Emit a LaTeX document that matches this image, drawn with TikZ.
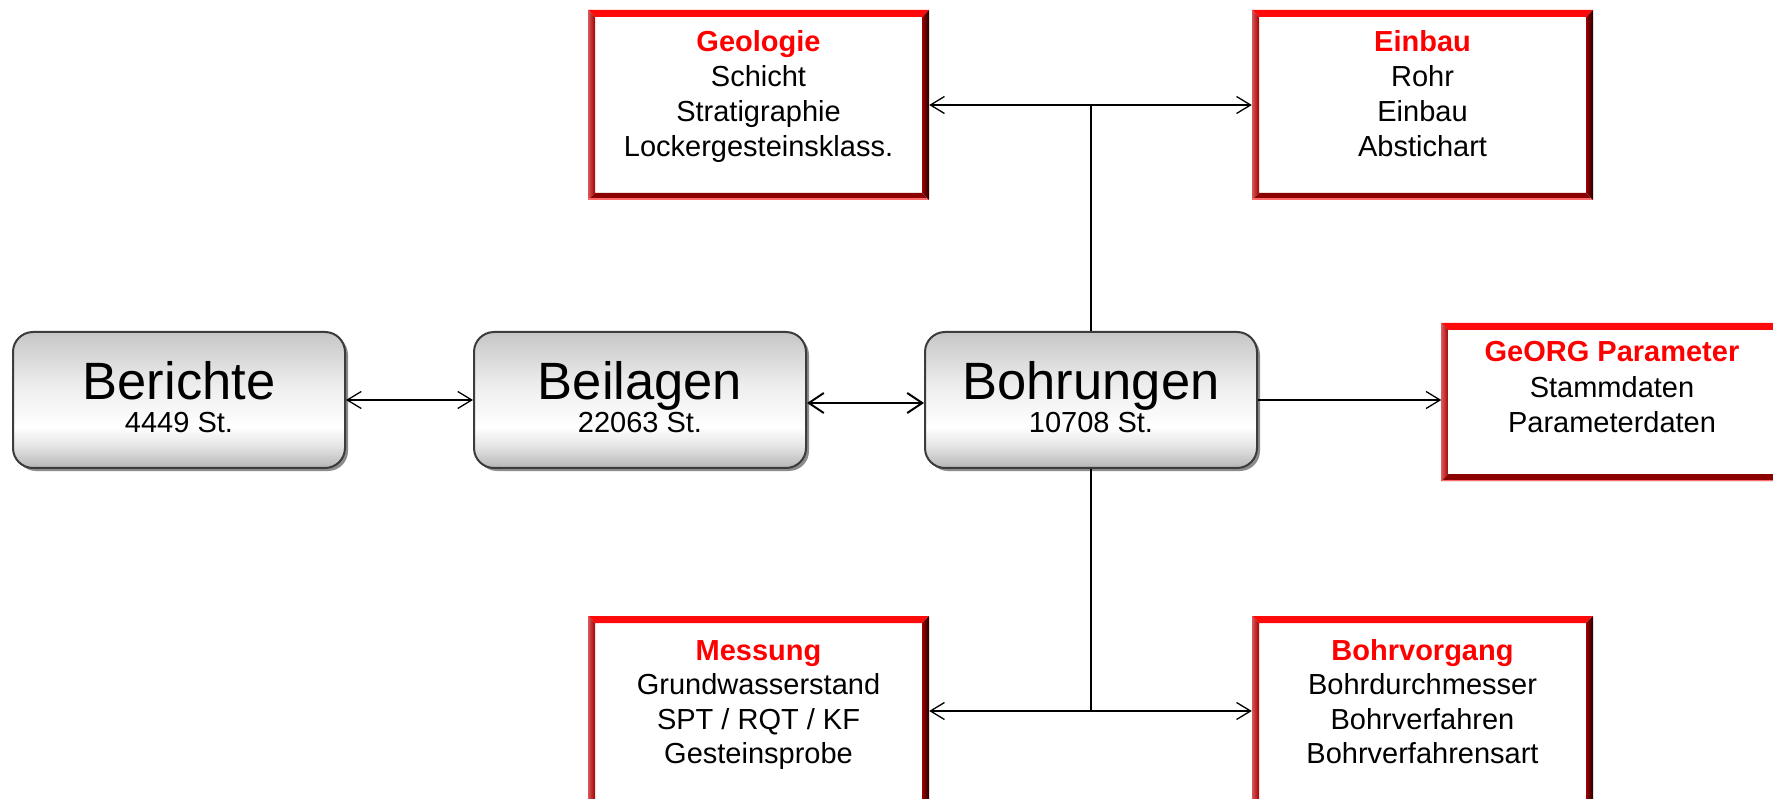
\documentclass[tikz,border=0pt]{standalone}
\usepackage{fontspec}
\setmainfont{Liberation Sans}
\usetikzlibrary{arrows.meta,calc,shadows}
\definecolor{ttlred}{HTML}{FF0000}
\definecolor{bvTop}{HTML}{FF0A0A}
\definecolor{bvLeftA}{HTML}{D85858}
\definecolor{bvLeftB}{HTML}{A00000}
\definecolor{bvBot}{HTML}{8B0000}
\definecolor{bvPink}{HTML}{FF6A6A}
\definecolor{bvRightA}{HTML}{A00000}
\definecolor{bvRightB}{HTML}{1E0000}
\definecolor{gbA}{HTML}{B6B6B6}
\definecolor{gbB}{HTML}{E4E4E4}
\definecolor{gbC}{HTML}{EEEEEE}
\definecolor{gbD}{HTML}{C6C6C6}
\definecolor{grayborder}{HTML}{3C3C3C}
\definecolor{shadowgray}{HTML}{8C8C8C}
\pgfdeclareverticalshading{grayboxshade}{100bp}{color(0bp)=(gbA); color(25bp)=(gbA); color(33bp)=(gbB); color(40bp)=(white); color(55bp)=(gbC); color(75bp)=(gbD); color(100bp)=(gbD)}
\newcommand\stacklines[2]{\vtop{\baselineskip=#1\relax\lineskiplimit=-1000pt\lineskip=0pt\halign{\hfil##\hfil\cr#2\crcr}}}
\newcommand\ttl[1]{\textcolor{ttlred}{\bfseries #1}}
\newcommand\redbevel{%
  \coordinate (pNW) at (path picture bounding box.north west);
  \coordinate (pSE) at (path picture bounding box.south east);
  \coordinate (pNE) at (path picture bounding box.north east);
  \coordinate (pSW) at (path picture bounding box.south west);
  \fill[bvTop] (pNW) -- (pNE) -- ($(pNE)+(-7,7)$) -- ($(pNW)+(7,7)$) -- cycle;
  \shade[left color=bvLeftA, right color=bvLeftB] (pNW) -- ($(pNW)+(7,7)$) -- ($(pSW)+(7,-7)$) -- (pSW) -- cycle;
  \fill[bvBot] (pSW) -- ($(pSW)+(7,-7)$) -- ($(pSE)+(-7,-7)$) -- (pSE) -- cycle;
  \fill[bvPink] (pSW) rectangle ($(pSE)+(0,-1.5)$);
  \shade[left color=bvRightA, right color=bvRightB] (pNE) -- (pSE) -- ($(pSE)+(-7,-7)$) -- ($(pNE)+(-7,7)$) -- cycle;
}
\tikzset{
  graybox/.style={rectangle, rounded corners=20pt, draw=grayborder, line width=2pt,
    shade, shading=grayboxshade, minimum width=332pt, minimum height=136pt, inner sep=0pt,
    copy shadow={shadow xshift=3pt, shadow yshift=-3pt, draw=none, fill=shadowgray}},
  redbox/.style={rectangle, draw=none, fill=white, minimum width=341pt, minimum height=190pt,
    inner sep=0pt, path picture={\redbevel}},
  txt/.style={anchor=base, inner sep=0pt, font=\fontsize{29}{35}\selectfont},
  conn/.style={line width=1.3pt, draw=black, >={Straight Barb[length=14pt,width=17pt,line width=1.3pt]}},
  connthick/.style={line width=2pt, draw=black, >={Straight Barb[length=15pt,width=20pt,line width=2pt]}}
}
\begin{document}
\begin{tikzpicture}[x=1pt,y=-1pt]
\useasboundingbox (0,0) rectangle (1773,799);
\fill[white] (0,0) rectangle (1773,799);
\clip (0,0) rectangle (1773,799);

% gray boxes
\node[graybox] (ber) at (179,400) {};
\node[graybox] (bei) at (640,400) {};
\node[graybox] (boh) at (1091,400) {};
\node[txt] (ber-t) at (179,400) {\stacklines{33pt}{{\fontsize{52.5}{60}\selectfont Berichte}\cr 4449 St.}};
\node[txt] (bei-t) at (640,400) {\stacklines{33pt}{{\fontsize{52.5}{60}\selectfont Beilagen}\cr 22063 St.}};
\node[txt] (boh-t) at (1091,400) {\stacklines{33pt}{{\fontsize{52.5}{60}\selectfont Bohrungen}\cr 10708 St.}};

% red boxes
\node[redbox] (geol) at (758.5,105) {};
\node[redbox] (einb) at (1422.5,105) {};
\node[redbox, minimum height=158pt] (georg) at (1612,402) {};
\node[redbox] (mess) at (758.5,711) {};
\node[redbox] (bohv) at (1422.5,711) {};

\node[txt] (geol-t) at (758.5,52) {\stacklines{35pt}{\ttl{Geologie}\cr Schicht\cr Stratigraphie\cr Lockergesteinsklass.}};
\node[txt] (einb-t) at (1422.5,52) {\stacklines{35pt}{\ttl{Einbau}\cr Rohr\cr Einbau\cr Abstichart}};
\node[txt] (georg-t) at (1612,362) {\stacklines{35.5pt}{\ttl{GeORG Parameter}\cr Stammdaten\cr Parameterdaten}};
\node[txt] (mess-t) at (758.5,660) {\stacklines{34.5pt}{\ttl{Messung}\cr Grundwasserstand\cr SPT / RQT / KF\cr Gesteinsprobe}};
\node[txt] (bohv-t) at (1422.5,660) {\stacklines{34.5pt}{\ttl{Bohrvorgang}\cr Bohrdurchmesser\cr Bohrverfahren\cr Bohrverfahrensart}};

% connectors
\draw[conn, <->] (ber.east) -- (bei.west);
\draw[connthick, <->] ([yshift=-3pt]bei.east) -- ([yshift=-3pt]boh.west);
\draw[conn, ->] (boh.east) -- (boh.east -| georg.west);
\coordinate (jt) at (boh.north |- geol.east);
\draw[conn] (boh.north) -- (jt);
\draw[conn, <->] (geol.east) -- (einb.west);
\coordinate (jb) at (boh.south |- mess.east);
\draw[conn] (boh.south) -- (jb);
\draw[conn, <->] (mess.east) -- (bohv.west);
\end{tikzpicture}
\end{document}
